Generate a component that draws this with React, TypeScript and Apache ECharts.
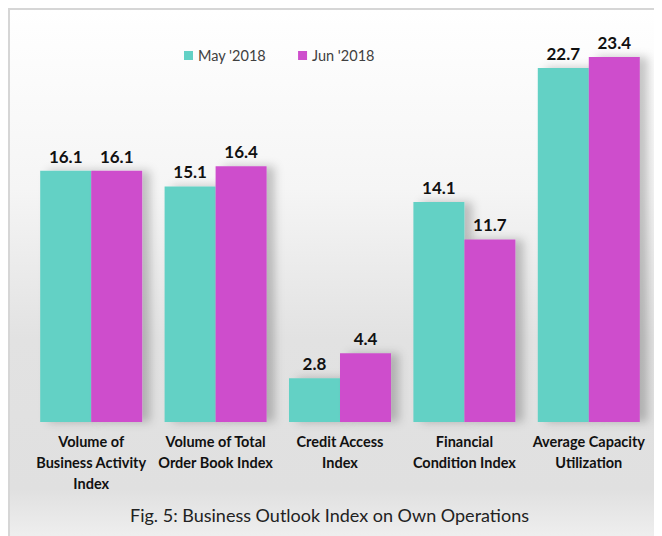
import React, { useEffect, useRef } from "react";
import * as echarts from "echarts";

const categories = [
  "Volume of\nBusiness Activity\nIndex",
  "Volume of Total\nOrder Book Index",
  "Credit Access\nIndex",
  "Financial\nCondition Index",
  "Average Capacity\nUtilization",
];
const seriesNames = ["May '2018", "Jun '2018"];
const mayValues = [16.1, 15.1, 2.8, 14.1, 22.7];
const junValues = [16.1, 16.4, 4.4, 11.7, 23.4];
const colors = ["#63D1C5", "#CE4ECC"];
const titleText = "Fig. 5: Business Outlook Index on Own Operations";

const FONT = "Lato, 'Open Sans', sans-serif";

export default function App() {
  const ref = useRef<HTMLDivElement>(null);
  useEffect(() => {
    if (!ref.current) return;
    const chart = echarts.init(ref.current, undefined, { renderer: "svg" });
    const barStyle = (c: string) => ({
      color: c,
      shadowColor: "rgba(0,0,0,0.22)",
      shadowBlur: 10,
      shadowOffsetX: 8,
      shadowOffsetY: 0,
    });
    const label = {
      show: true,
      position: "top",
      distance: 6,
      fontFamily: FONT,
      fontWeight: "bold",
      fontSize: 17,
      color: "#111",
      formatter: (p: any) => p.value.toFixed(1),
    };
    chart.setOption({
      animation: false,
      textStyle: { fontFamily: FONT },
      graphic: [
        {
          type: "rect",
          z: -10,
          silent: true,
          shape: { x: 1, y: 1, width: 700, height: 600 },
          style: {
            stroke: "#d6d6d6",
            lineWidth: 2,
            fill: new echarts.graphic.LinearGradient(0, 0, 0, 1, [
              { offset: 0, color: "#ffffff" },
              { offset: 0.3, color: "#f5f5f5" },
              { offset: 0.55, color: "#e2e2e2" },
              { offset: 0.8, color: "#e0e0e0" },
              { offset: 0.92, color: "#f6f6f6" },
              { offset: 1, color: "#ffffff" },
            ]),
          },
        },
        {
          type: "text",
          x: 321.5,
          y: 507,
          style: {
            text: titleText,
            fontFamily: FONT,
            fontSize: 18,
            fill: "#222",
            align: "center",
            verticalAlign: "middle",
          },
        },
      ],
      legend: {
        data: seriesNames,
        left: 171,
        top: 35,
        itemWidth: 9,
        itemHeight: 9,
        itemGap: 32,
        icon: "rect",
        textStyle: { fontFamily: FONT, fontSize: 14.5, color: "#404040" },
      },
      grid: { left: 21, right: 11, top: 24, bottom: 114 },
      xAxis: {
        type: "category",
        data: categories,
        axisLine: { show: false },
        axisTick: { show: false },
        axisLabel: {
          interval: 0,
          margin: 9,
          fontFamily: FONT,
          fontWeight: "bold",
          fontSize: 14.5,
          lineHeight: 21,
          color: "#111",
        },
      },
      yAxis: {
        type: "value",
        min: 0,
        max: 25,
        show: false,
        splitLine: { show: false },
      },
      series: [
        {
          name: seriesNames[0],
          type: "bar",
          data: mayValues,
          barGap: "0%",
          barCategoryGap: "18%",
          itemStyle: barStyle(colors[0]),
          label,
        },
        {
          name: seriesNames[1],
          type: "bar",
          data: junValues,
          itemStyle: barStyle(colors[1]),
          label,
        },
      ],
    });
    return () => chart.dispose();
  }, []);
  return <div ref={ref} style={{ width: 654, height: 528 }} />;
}
